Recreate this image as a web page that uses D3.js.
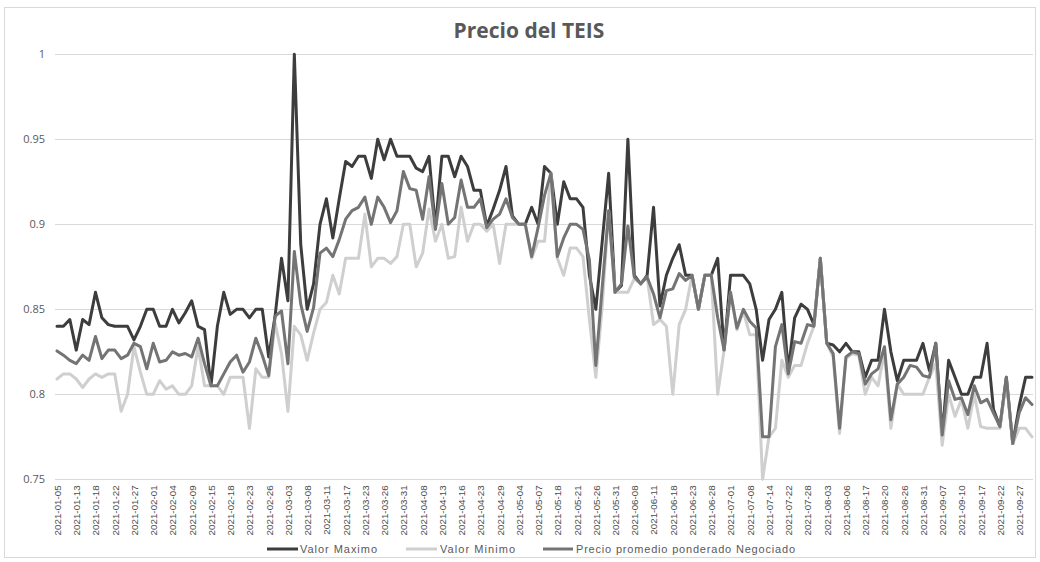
<!DOCTYPE html>
<html><head><meta charset="utf-8">
<script src="https://cdn.jsdelivr.net/npm/d3@7"></script>
<style>
html,body{margin:0;padding:0;background:#fff;}
svg{display:block;}
</style></head>
<body>
<svg id="chart" width="1040" height="562"></svg>
<script>
const dates = ["2021-01-05","2021-01-07","2021-01-12","2021-01-13","2021-01-14","2021-01-15","2021-01-18","2021-01-19","2021-01-21","2021-01-22",
"2021-01-25","2021-01-26","2021-01-27","2021-01-28","2021-01-29","2021-02-01","2021-02-02","2021-02-03","2021-02-04","2021-02-05",
"2021-02-08","2021-02-09","2021-02-11","2021-02-12","2021-02-15","2021-02-16","2021-02-17","2021-02-18","2021-02-19","2021-02-22",
"2021-02-23","2021-02-24","2021-02-25","2021-02-26","2021-03-01","2021-03-02","2021-03-03","2021-03-04","2021-03-05","2021-03-08",
"2021-03-09","2021-03-10","2021-03-11","2021-03-12","2021-03-16","2021-03-17","2021-03-18","2021-03-19","2021-03-23","2021-03-24",
"2021-03-25","2021-03-26","2021-03-29","2021-03-30","2021-03-31","2021-04-05","2021-04-07","2021-04-08","2021-04-09","2021-04-12",
"2021-04-13","2021-04-14","2021-04-15","2021-04-16","2021-04-20","2021-04-22","2021-04-23","2021-04-26","2021-04-27","2021-04-29",
"2021-04-30","2021-05-03","2021-05-04","2021-05-05","2021-05-06","2021-05-07","2021-05-10","2021-05-13","2021-05-18","2021-05-19",
"2021-05-20","2021-05-21","2021-05-24","2021-05-25","2021-05-26","2021-05-27","2021-05-28","2021-05-31","2021-06-02","2021-06-04",
"2021-06-08","2021-06-09","2021-06-10","2021-06-11","2021-06-15","2021-06-16","2021-06-18","2021-06-21","2021-06-22","2021-06-23",
"2021-06-24","2021-06-25","2021-06-28","2021-06-29","2021-06-30","2021-07-01","2021-07-02","2021-07-06","2021-07-08","2021-07-09",
"2021-07-13","2021-07-14","2021-07-16","2021-07-21","2021-07-22","2021-07-23","2021-07-27","2021-07-28","2021-07-30","2021-08-02",
"2021-08-03","2021-08-04","2021-08-05","2021-08-06","2021-08-10","2021-08-12","2021-08-17","2021-08-18","2021-08-19","2021-08-20",
"2021-08-23","2021-08-24","2021-08-26","2021-08-27","2021-08-30","2021-08-31","2021-09-01","2021-09-03","2021-09-07","2021-09-08",
"2021-09-09","2021-09-10","2021-09-14","2021-09-16","2021-09-17","2021-09-20","2021-09-21","2021-09-22","2021-09-23","2021-09-24",
"2021-09-27","2021-09-28","2021-09-29"];

const valorMaximo = [0.840,0.840,0.844,0.826,0.844,0.841,0.860,0.845,0.841,0.840,
0.840,0.840,0.832,0.840,0.850,0.850,0.840,0.840,0.850,0.842,
0.848,0.855,0.840,0.838,0.805,0.840,0.860,0.847,0.850,0.850,
0.845,0.850,0.850,0.822,0.846,0.880,0.855,1.000,0.888,0.850,
0.865,0.900,0.915,0.892,0.915,0.937,0.934,0.940,0.940,0.927,
0.950,0.938,0.950,0.940,0.940,0.940,0.933,0.931,0.940,0.898,
0.940,0.940,0.928,0.940,0.934,0.920,0.920,0.899,0.909,0.920,
0.934,0.905,0.900,0.900,0.910,0.900,0.934,0.930,0.900,0.925,
0.915,0.915,0.910,0.870,0.850,0.890,0.930,0.860,0.864,0.950,
0.870,0.865,0.870,0.910,0.852,0.870,0.880,0.888,0.870,0.870,
0.850,0.870,0.870,0.880,0.826,0.870,0.870,0.870,0.865,0.850,
0.820,0.844,0.850,0.860,0.814,0.845,0.853,0.850,0.841,0.880,
0.830,0.829,0.825,0.830,0.825,0.825,0.810,0.820,0.820,0.850,
0.825,0.808,0.820,0.820,0.820,0.830,0.814,0.830,0.776,0.820,
0.810,0.800,0.800,0.810,0.810,0.830,0.791,0.781,0.810,0.771,
0.793,0.810,0.810];

const valorMinimo = [0.809,0.812,0.812,0.809,0.804,0.809,0.812,0.810,0.812,0.812,
0.790,0.800,0.828,0.813,0.800,0.800,0.808,0.803,0.805,0.800,
0.800,0.805,0.828,0.805,0.805,0.805,0.800,0.810,0.810,0.810,
0.780,0.815,0.810,0.810,0.842,0.824,0.790,0.840,0.835,0.820,
0.836,0.850,0.854,0.870,0.859,0.880,0.880,0.880,0.906,0.875,
0.880,0.880,0.877,0.881,0.900,0.900,0.875,0.883,0.909,0.890,
0.900,0.880,0.881,0.910,0.890,0.900,0.900,0.896,0.900,0.877,
0.900,0.900,0.900,0.900,0.880,0.890,0.890,0.930,0.880,0.870,
0.886,0.886,0.881,0.844,0.810,0.852,0.908,0.860,0.860,0.860,
0.868,0.865,0.869,0.841,0.844,0.840,0.800,0.841,0.850,0.870,
0.850,0.870,0.870,0.800,0.826,0.860,0.838,0.849,0.835,0.835,
0.750,0.775,0.780,0.820,0.810,0.817,0.817,0.830,0.840,0.880,
0.830,0.822,0.777,0.821,0.824,0.823,0.800,0.810,0.805,0.825,
0.780,0.806,0.800,0.800,0.800,0.800,0.810,0.818,0.770,0.800,
0.787,0.797,0.780,0.800,0.781,0.780,0.780,0.780,0.808,0.771,
0.780,0.780,0.775];

const precioPromedio = [0.8255,0.823,0.820,0.818,0.823,0.820,0.834,0.821,0.826,0.826,
0.821,0.823,0.830,0.828,0.815,0.830,0.819,0.820,0.825,0.823,
0.824,0.822,0.833,0.818,0.805,0.805,0.812,0.819,0.823,0.813,
0.819,0.833,0.823,0.811,0.846,0.849,0.818,0.884,0.853,0.837,
0.851,0.883,0.886,0.881,0.891,0.903,0.908,0.910,0.916,0.900,
0.916,0.910,0.901,0.908,0.931,0.921,0.920,0.903,0.928,0.897,
0.924,0.900,0.904,0.926,0.910,0.910,0.915,0.898,0.903,0.906,
0.915,0.904,0.900,0.900,0.881,0.898,0.917,0.930,0.881,0.892,
0.900,0.900,0.897,0.879,0.817,0.863,0.908,0.860,0.865,0.899,
0.869,0.865,0.869,0.859,0.845,0.861,0.862,0.871,0.867,0.870,
0.850,0.870,0.870,0.845,0.826,0.860,0.839,0.850,0.843,0.839,
0.775,0.775,0.828,0.841,0.812,0.831,0.830,0.841,0.840,0.880,
0.830,0.824,0.780,0.822,0.825,0.824,0.806,0.812,0.815,0.828,
0.785,0.806,0.810,0.817,0.816,0.811,0.810,0.830,0.776,0.808,
0.797,0.798,0.788,0.805,0.795,0.797,0.789,0.781,0.810,0.771,
0.789,0.798,0.794];

const yTicks = [0.75,0.8,0.85,0.9,0.95,1];
const seriesNames = ["Valor Maximo","Valor Minimo","Precio promedio ponderado Negociado"];
const seriesColors = ["#3d3d3d","#cfcfcf","#747474"];
const titleText = "Precio del TEIS";

const svg = d3.select("#chart");

// frame
svg.append("rect").attr("x",4.5).attr("y",7.5).attr("width",1031).attr("height",550)
  .attr("fill","none").attr("stroke","#d9d9d9").attr("stroke-width",1);

const x = d3.scalePoint().domain(dates).range([57, 1032]);
const y = d3.scaleLinear().domain([0.75, 1]).range([479.3, 54.3]);

// gridlines
svg.append("g").selectAll("line").data(yTicks).join("line")
  .attr("x1",55).attr("x2",1033)
  .attr("y1",d=>Math.round(y(d))+0.5).attr("y2",d=>Math.round(y(d))+0.5)
  .attr("stroke","#d9d9d9").attr("stroke-width",1);

// y axis
const yAxis = svg.append("g").attr("transform","translate(55,0)")
  .call(d3.axisLeft(y).tickValues(yTicks).tickSize(0).tickPadding(10)
    .tickFormat(d => String(+d.toFixed(2))));
yAxis.select(".domain").remove();
yAxis.selectAll("text").attr("fill","#595959").style("font-family","'Open Sans', 'Liberation Sans', sans-serif").style("font-size","11px");

// x axis
const xAxis = svg.append("g").attr("transform","translate(0,479.3)")
  .call(d3.axisBottom(x).tickValues(dates.filter((d,i)=>i%3===0)).tickSize(0).tickPadding(0));
xAxis.select(".domain").remove();
xAxis.selectAll("text")
  .attr("transform","rotate(-90)")
  .attr("x",-6).attr("y",0).attr("dy","0.35em")
  .attr("text-anchor","end")
  .attr("fill","#4d4d4d")
  .style("font-family","'Liberation Sans', Arial, sans-serif")
  .style("font-size","9.8px");

// lines
const line = d3.line().x((d,i)=>x(dates[i])).y(d=>y(d));
const allSeries = [valorMaximo, valorMinimo, precioPromedio];
svg.append("g").selectAll("path").data(allSeries).join("path")
  .attr("d", d=>line(d))
  .attr("fill","none")
  .attr("stroke",(d,i)=>seriesColors[i])
  .attr("stroke-width",3)
  .attr("stroke-linejoin","round")
  .attr("stroke-linecap","round");

// title
svg.append("text").attr("x",529).attr("y",38).attr("text-anchor","middle")
  .attr("fill","#595959")
  .style("font-family","'Open Sans', 'Liberation Sans', sans-serif")
  .style("font-size","21px").style("font-weight","700")
  .text(titleText);

// legend
const legendItems = [
  {x1:267, x2:298, tx:300, tw:77},
  {x1:406, x2:437, tx:440, tw:75},
  {x1:543, x2:573, tx:576, tw:219}
];
const lg = svg.append("g");
legendItems.forEach((it,i)=>{
  lg.append("line").attr("x1",it.x1).attr("x2",it.x2).attr("y1",549).attr("y2",549)
    .attr("stroke",seriesColors[i]).attr("stroke-width",3);
  lg.append("text").attr("x",it.tx).attr("y",553)
    .attr("fill","#595959")
    .attr("textLength",it.tw).attr("lengthAdjust","spacing")
    .style("font-family","'Liberation Sans', Arial, sans-serif")
    .style("font-size","11px")
    .text(seriesNames[i]);
});
</script>
</body></html>
